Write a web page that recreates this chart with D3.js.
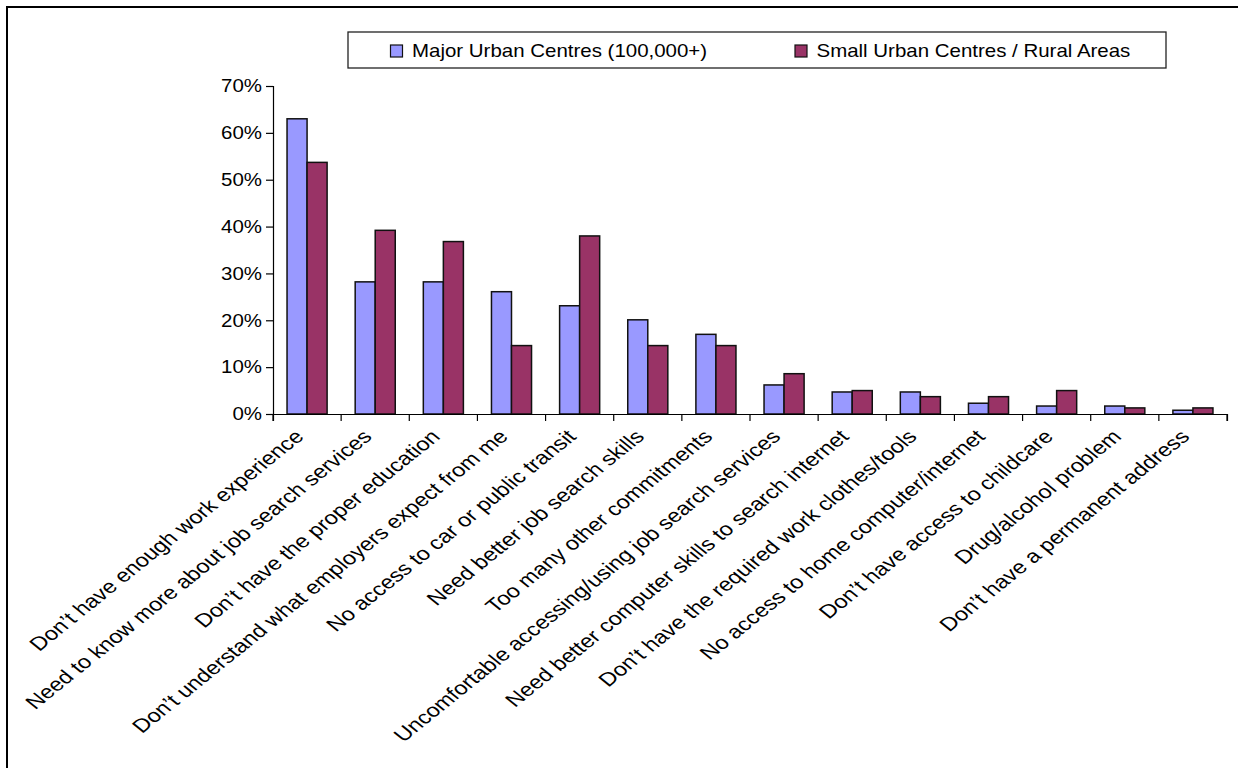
<!DOCTYPE html>
<html>
<head>
<meta charset="utf-8">
<script src="https://cdn.jsdelivr.net/npm/d3@7"></script>
<style>
  html, body { margin: 0; padding: 0; background: #fff; }
  svg { display: block; }
  text { font-family: "Liberation Sans", Arial, sans-serif; fill: #000; }
</style>
</head>
<body>
<svg id="chart" width="1238" height="768"></svg>
<script>
const categories = [
  "Don’t have enough work experience",
  "Need to know more about job search services",
  "Don’t have the proper education",
  "Don’t understand what employers expect from me",
  "No access to car or public transit",
  "Need better job search skills",
  "Too many other commitments",
  "Uncomfortable accessing/using job search services",
  "Need better computer skills to search internet",
  "Don’t have the required work clothes/tools",
  "No access to home computer/internet",
  "Don’t have access to childcare",
  "Drug/alcohol problem",
  "Don’t have a permanent address"
];
const seriesNames = ["Major Urban Centres (100,000+)", "Small Urban Centres / Rural Areas"];
const majorUrban = [63.0, 28.2, 28.2, 26.1, 23.1, 20.1, 17.0, 6.2, 4.7, 4.7, 2.3, 1.7, 1.7, 0.8];
const smallRural = [53.7, 39.2, 36.8, 14.6, 38.0, 14.6, 14.6, 8.6, 5.0, 3.7, 3.7, 5.0, 1.3, 1.3];
const yTicks = [0, 10, 20, 30, 40, 50, 60, 70];
const colors = ["#9999FF", "#993366"];

const SX = 1.17;      // horizontal stretch of the text glyphs
const FS = 17.5;      // font size (axis ticks, legend)
const LSX = 1.24;     // stretch for category labels
const LFS = 19;       // font size for category labels

const svg = d3.select("#chart");

// outer frame
svg.append("rect").attr("x", 7).attr("y", 7).attr("width", 1240).attr("height", 770)
  .attr("fill", "none").attr("stroke", "#000").attr("stroke-width", 2);

const x0 = d3.scaleBand().domain(categories).range([273, 1227]).padding(0);
const x1 = d3.scaleBand().domain(seriesNames)
  .range([x0.bandwidth() * 0.206, x0.bandwidth() * 0.794]).padding(0);
const y = d3.scaleLinear().domain([0, 70]).range([414, 86]);

const data = categories.map((c, i) => ({ cat: c, vals: [majorUrban[i], smallRural[i]] }));

// bars
const g = svg.append("g");
const groups = g.selectAll("g.cat").data(data).enter().append("g")
  .attr("transform", d => `translate(${x0(d.cat)},0)`);
groups.selectAll("rect").data(d => d.vals.map((v, k) => ({ v, k }))).enter().append("rect")
  .attr("x", d => x1(seriesNames[d.k]))
  .attr("y", d => y(d.v))
  .attr("width", x1.bandwidth())
  .attr("height", d => y(0) - y(d.v))
  .attr("fill", d => colors[d.k])
  .attr("stroke", "#111")
  .attr("stroke-width", 1.5);

// y axis
const yAxis = d3.axisLeft(y).tickValues(yTicks).tickSize(7).tickFormat(d => "");
const ya = svg.append("g").attr("transform", "translate(273,0)").call(yAxis);
ya.select(".domain").attr("stroke", "#000").attr("stroke-width", 1.2);
ya.selectAll(".tick line").attr("stroke", "#000").attr("stroke-width", 1.2);
svg.append("g").selectAll("text").data(yTicks).enter().append("text")
  .attr("transform", d => `translate(262,${y(d)}) scale(${SX},1)`)
  .attr("dy", "0.36em")
  .attr("text-anchor", "end")
  .attr("font-size", FS)
  .text(d => d + "%");

// x axis
const xAxis = d3.axisBottom(x0).tickSize(7).tickFormat(() => "");
const xa = svg.append("g").attr("transform", `translate(0,${y(0)})`).call(xAxis);
xa.select(".domain").attr("stroke", "#000").attr("stroke-width", 1.2);
xa.selectAll(".tick").remove();
const boundaries = categories.map(c => x0(c)).concat([x0.range()[1]]);
xa.selectAll("line.bt").data(boundaries).enter().append("line")
  .attr("x1", d => d).attr("x2", d => d).attr("y1", 0).attr("y2", 7)
  .attr("stroke", "#000").attr("stroke-width", 1.2);

// category labels
svg.append("g").selectAll("text").data(categories).enter().append("text")
  .attr("transform", c => `translate(${x0(c) + x0.bandwidth() / 2 - 8},${y(0) + 19}) scale(${LSX},1) rotate(-45)`)
  .attr("text-anchor", "end")
  .attr("dy", "0.35em")
  .attr("font-size", LFS)
  .text(c => c);

// legend
const lg = svg.append("g");
lg.append("rect").attr("x", 348).attr("y", 32).attr("width", 818).attr("height", 36)
  .attr("fill", "#fff").attr("stroke", "#222").attr("stroke-width", 1.3);
const legendX = [390.5, 795];
seriesNames.forEach((s, k) => {
  lg.append("rect").attr("x", legendX[k]).attr("y", 45).attr("width", 12).attr("height", 12)
    .attr("fill", colors[k]).attr("stroke", "#111").attr("stroke-width", 1.2);
  lg.append("text").attr("transform", `translate(${legendX[k] + 21.5},57) scale(${SX},1)`)
    .attr("font-size", FS).text(s);
});
</script>
</body>
</html>
